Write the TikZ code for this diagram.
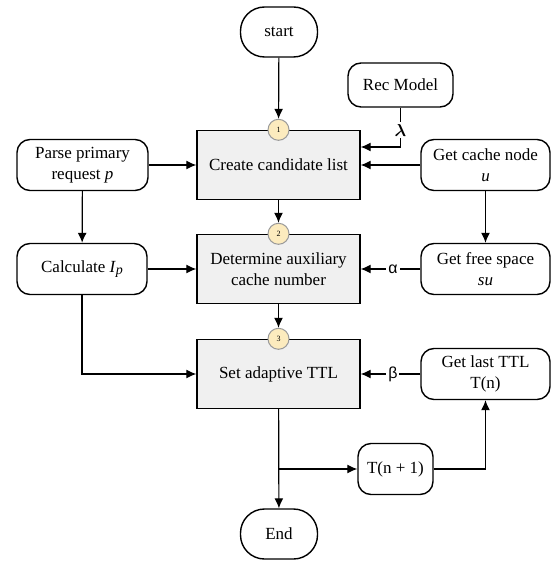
\documentclass[tikz,border=0pt]{standalone}
\usepackage{amsmath}
\usepackage{fontspec}
\setmainfont{Liberation Serif}
\newfontfamily\greeksans{Liberation Sans}
\usetikzlibrary{arrows.meta,calc}
\definecolor{procfill}{HTML}{F0F0F0}
\definecolor{badgefill}{HTML}{FCEBBE}
\definecolor{badgeline}{HTML}{9A9A9A}
\begin{document}
\begin{tikzpicture}[x=1pt,y=-1pt,
  every node/.style={font=\fontsize{17}{21}\selectfont, align=center, inner sep=0pt},
  line/.style={line width=1.2pt, draw=black},
  arr/.style={line, -{Latex[length=10pt,width=9pt]}},
  term/.style={draw=black, line width=1.4pt, rounded corners=24pt, minimum width=77pt, minimum height=50pt, fill=white},
  rbox/.style={draw=black, line width=1.4pt, rounded corners=13pt, minimum width=129pt, minimum height=51pt, fill=white},
  proc/.style={draw=black, line width=1.4pt, fill=procfill, minimum width=163pt, minimum height=69pt},
  badge/.style={circle, draw=badgeline, line width=1pt, fill=badgefill, minimum size=21pt, font=\fontsize{8}{8}\selectfont},
  lab/.style={fill=white, inner sep=2pt}
]
\useasboundingbox (0,0) rectangle (553,561);

% terminals
\node[term] (start) at (279,32) {start};
\node[term] (end) at (279,534) {End};

% process boxes
\node[proc] (create) at (278.5,165) {Create candidate list};
\node[proc] (determine) at (278.5,269) {Determine auxiliary\\cache number};
\node[proc] (set) at (278.5,374) {Set adaptive TTL};

% badges
\node[badge] (b1) at (create.north) {1};
\node[badge] (b2) at (determine.north) {2};
\node[badge] (b3) at (set.north) {3};

% side boxes
\node[rbox, minimum width=105pt, minimum height=44pt] (rec) at (400.5,85) {Rec Model};
\node[rbox, minimum width=131pt] (parse) at (82.5,165) {Parse primary\\request \textit{p}};
\node[rbox, minimum width=130pt] (calc) at (82,269) {Calculate \textit{I}{\fontsize{14}{14}\selectfont\raisebox{-2pt}{\textit{p}}}};
\node[rbox] (cache) at (485.5,165) {Get cache node\\\textit{u}};
\node[rbox] (free) at (485.5,269) {Get free space\\\textit{su}};
\node[rbox] (last) at (485.5,374) {Get last TTL\\T(n)};
\node[rbox, minimum width=75pt] (tn1) at (395.5,469) {T(n + 1)};

\coordinate (split) at (set.south |- tn1.west);

% main flow
\draw[arr] (start) -- (b1);
\draw[arr] (create) -- (b2);
\draw[arr] (determine) -- (b3);
\draw[arr] (set) -- (end);
\draw[arr] (split) -- (tn1);
\draw[arr] (tn1) -| (last);

% left inputs
\draw[arr] (parse) -- (create);
\draw[arr] (parse) -- (calc);
\draw[arr] (calc) -- (determine);
\draw[arr] (calc) |- (set);

% right inputs
\draw[arr] (rec.south) |- node[lab, pos=0.29, font=\fontsize{18}{18}\selectfont]{$\boldsymbol{\lambda}$} ([yshift=18pt]create.east);
\draw[arr] (cache) -- (create);
\draw[arr] (cache) -- (free);
\draw[arr] (free) -- node[lab, pos=0.46, font=\fontsize{16}{16}\selectfont\greeksans]{α} (determine);
\draw[arr] (last) -- node[lab, pos=0.46, font=\fontsize{16}{16}\selectfont\greeksans]{β} (set);
\end{tikzpicture}
\end{document}
